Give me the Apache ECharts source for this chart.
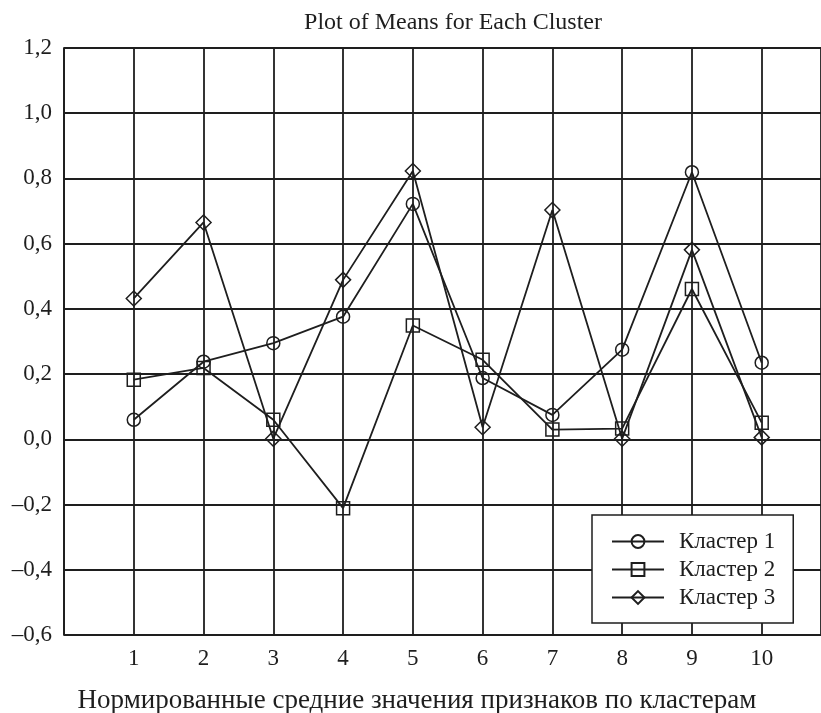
<!DOCTYPE html>
<html>
<head>
<meta charset="utf-8">
<script src="https://cdn.jsdelivr.net/npm/echarts@6/dist/echarts.min.js"></script>
<style>html,body{margin:0;padding:0;background:#fff;}#c{width:821px;height:713px;}</style>
</head>
<body>
<div id="c"></div>
<script>
var categories = [1, 2, 3, 4, 5, 6, 7, 8, 9, 10];
var cluster1 = [0.060, 0.238, 0.295, 0.376, 0.722, 0.188, 0.075, 0.275, 0.819, 0.235];
var cluster2 = [0.183, 0.219, 0.060, -0.211, 0.349, 0.244, 0.030, 0.033, 0.461, 0.051];
var cluster3 = [0.432, 0.665, 0.002, 0.489, 0.823, 0.037, 0.703, 0.002, 0.581, 0.006];
var seriesNames = ['Кластер 1', 'Кластер 2', 'Кластер 3'];
var yTicks = [-0.6, -0.4, -0.2, 0.0, 0.2, 0.4, 0.6, 0.8, 1.0, 1.2];
var chartTitle = 'Plot of Means for Each Cluster';
var bottomTitle = 'Нормированные средние значения признаков по кластерам';

var FONT = '"Liberation Serif", "DejaVu Serif", serif';
var INK = '#1e1e1e';

function pairs(vals) { return categories.map(function (c, i) { return [c, vals[i]]; }); }
function mkSeries(name, vals, symbol, size) {
  return {
    name: name, type: 'line', data: pairs(vals),
    symbol: symbol, symbolSize: size, showSymbol: true,
    lineStyle: { color: INK, width: 1.8 },
    itemStyle: { color: 'rgba(255,255,255,0)', borderColor: INK, borderWidth: 1.5 },
    emphasis: { disabled: true }, animation: false, z: 3
  };
}

var chart = echarts.init(document.getElementById('c'));
chart.setOption({
  backgroundColor: '#fff',
  animation: false,
  grid: { left: 64, top: 48, right: 0, bottom: 78, containLabel: false },
  xAxis: {
    type: 'value', min: 0, max: 10.85, interval: 1,
    axisLine: { show: true, lineStyle: { color: INK, width: 1.8 } },
    axisTick: { show: false },
    splitLine: { show: true, lineStyle: { color: INK, width: 1.8 } },
    axisLabel: {
      margin: 12, fontFamily: FONT, fontSize: 23, color: INK,
      formatter: function (v) { return (v >= 1 && v <= 10 && Math.abs(v - Math.round(v)) < 1e-6) ? String(Math.round(v)) : ''; },
      showMaxLabel: false
    }
  },
  yAxis: {
    type: 'value', min: yTicks[0], max: yTicks[yTicks.length - 1], interval: 0.2,
    axisLine: { show: true, lineStyle: { color: INK, width: 1.8 } },
    axisTick: { show: false },
    splitLine: { show: true, lineStyle: { color: INK, width: 1.8 } },
    axisLabel: {
      margin: 12, fontFamily: FONT, fontSize: 23, color: INK,
      formatter: function (v) { var s = Math.abs(v).toFixed(1).replace('.', ','); return v < -1e-9 ? '\u2013' + s : s; }
    }
  },
  legend: {
    left: 592, top: 515, orient: 'vertical',
    padding: [15, 18, 14, 19], itemGap: 5,
    itemWidth: 52, itemHeight: 16,
    backgroundColor: '#fff', borderColor: INK, borderWidth: 1.5,
    textStyle: { fontFamily: FONT, fontSize: 23, color: INK, padding: [0, 0, 0, 10] },
    data: seriesNames
  },
  graphic: [
    { type: 'text', x: 453, y: 11, style: { text: chartTitle, font: '24px ' + FONT, fill: INK, textAlign: 'center', textVerticalAlign: 'top' } },
    { type: 'text', x: 417, y: 687, style: { text: bottomTitle, font: '27px ' + FONT, fill: INK, textAlign: 'center', textVerticalAlign: 'top' } }
  ],
  series: [
    mkSeries(seriesNames[0], cluster1, 'circle', 13),
    mkSeries(seriesNames[1], cluster2, 'rect', 13),
    mkSeries(seriesNames[2], cluster3, 'diamond', [15, 15])
  ]
});
</script>
</body>
</html>
